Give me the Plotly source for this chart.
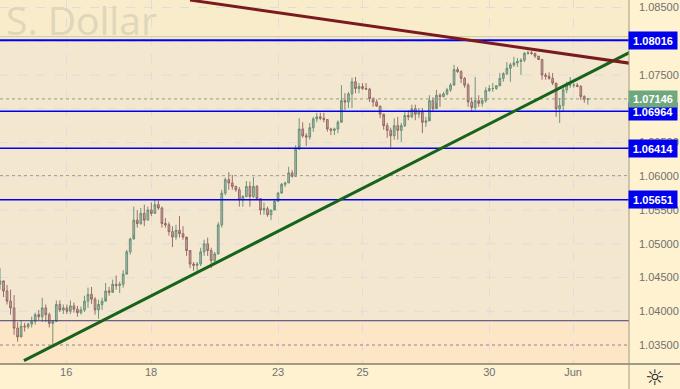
import plotly.graph_objects as go

highs = [1.0464,1.0444,1.0439,1.0432,1.0424,1.0384,1.0387,1.0383,1.0383,1.0392,
1.0398,1.0402,1.0420,1.0410,1.0398,1.0387,1.0416,1.0416,1.0410,1.0410,
1.0416,1.0413,1.0408,1.0407,1.0423,1.0435,1.0436,1.0421,1.0417,1.0420,
1.0442,1.0436,1.0447,1.0453,1.0444,1.0461,1.0491,1.0509,1.0555,1.0550,
1.0553,1.0558,1.0555,1.0561,1.0565,1.0564,1.0555,1.0538,1.0532,1.0526,
1.0528,1.0541,1.0526,1.0506,1.0487,1.0473,1.0473,1.0494,1.0506,1.0509,
1.0494,1.0488,1.0532,1.0580,1.0598,1.0606,1.0602,1.0586,1.0584,1.0572,
1.0593,1.0592,1.0599,1.0587,1.0565,1.0561,1.0555,1.0550,1.0565,1.0577,
1.0590,1.0592,1.0614,1.0609,1.0646,1.0686,1.0680,1.0664,1.0679,1.0688,
1.0694,1.0694,1.0694,1.0683,1.0672,1.0672,1.0683,1.0735,1.0723,1.0725,
1.0746,1.0747,1.0738,1.0738,1.0738,1.0731,1.0717,1.0714,1.0703,1.0688,
1.0679,1.0672,1.0686,1.0688,1.0679,1.0695,1.0698,1.0706,1.0706,1.0701,
1.0701,1.0688,1.0720,1.0717,1.0728,1.0723,1.0725,1.0731,1.0738,1.0765,
1.0762,1.0757,1.0747,1.0738,1.0717,1.0747,1.0720,1.0716,1.0732,1.0735,
1.0738,1.0735,1.0753,1.0754,1.0769,1.0768,1.0777,1.0775,1.0775,1.0784,
1.0786,1.0786,1.0783,1.0777,1.0774,1.0753,1.0754,1.0753,1.0728,1.0716,
1.0735,1.0740,1.0747,1.0738,1.0738,1.0735,1.0720,1.0716]

lows = [1.0432,1.0421,1.0410,1.0395,1.0365,1.0355,1.0365,1.0370,1.0374,1.0376,
1.0380,1.0387,1.0384,1.0384,1.0376,1.0349,1.0387,1.0399,1.0396,1.0396,
1.0396,1.0398,1.0392,1.0395,1.0399,1.0405,1.0411,1.0395,1.0389,1.0402,
1.0420,1.0423,1.0432,1.0432,1.0427,1.0435,1.0458,1.0484,1.0513,1.0524,
1.0528,1.0526,1.0535,1.0541,1.0547,1.0550,1.0524,1.0524,1.0512,1.0495,
1.0506,1.0509,1.0506,1.0482,1.0464,1.0460,1.0460,1.0467,1.0482,1.0482,
1.0464,1.0473,1.0484,1.0524,1.0572,1.0580,1.0580,1.0577,1.0555,1.0555,
1.0569,1.0555,1.0568,1.0565,1.0543,1.0543,1.0540,1.0535,1.0558,1.0568,
1.0577,1.0584,1.0590,1.0598,1.0599,1.0646,1.0657,1.0645,1.0654,1.0666,
1.0680,1.0683,1.0680,1.0666,1.0661,1.0661,1.0664,1.0683,1.0698,1.0701,
1.0701,1.0723,1.0723,1.0728,1.0728,1.0710,1.0703,1.0703,1.0686,1.0669,
1.0657,1.0643,1.0654,1.0654,1.0651,1.0673,1.0683,1.0686,1.0683,1.0686,
1.0664,1.0673,1.0688,1.0695,1.0709,1.0703,1.0717,1.0720,1.0725,1.0738,
1.0753,1.0738,1.0731,1.0703,1.0695,1.0698,1.0703,1.0703,1.0709,1.0725,
1.0725,1.0728,1.0738,1.0740,1.0750,1.0740,1.0762,1.0762,1.0750,1.0769,
1.0780,1.0780,1.0775,1.0772,1.0743,1.0743,1.0743,1.0735,1.0688,1.0679,
1.0695,1.0723,1.0731,1.0731,1.0732,1.0713,1.0709,1.0706]

closes = [1.0445,1.0430,1.0415,1.0405,1.0375,1.0362,1.0378,1.0377,1.0381,1.0385,
1.0395,1.0392,1.0405,1.0395,1.0382,1.0385,1.0410,1.0402,1.0405,1.0400,
1.0408,1.0403,1.0398,1.0402,1.0415,1.0425,1.0418,1.0402,1.0410,1.0415,
1.0430,1.0428,1.0440,1.0438,1.0440,1.0455,1.0488,1.0507,1.0535,1.0530,
1.0545,1.0535,1.0550,1.0545,1.0558,1.0553,1.0530,1.0528,1.0518,1.0510,
1.0520,1.0515,1.0510,1.0490,1.0470,1.0468,1.0470,1.0488,1.0500,1.0490,
1.0475,1.0485,1.0528,1.0575,1.0595,1.0590,1.0585,1.0580,1.0565,1.0570,
1.0585,1.0570,1.0585,1.0567,1.0550,1.0552,1.0543,1.0550,1.0563,1.0575,
1.0588,1.0590,1.0605,1.0600,1.0640,1.0670,1.0660,1.0658,1.0672,1.0685,
1.0688,1.0686,1.0684,1.0670,1.0668,1.0670,1.0680,1.0712,1.0710,1.0722,
1.0740,1.0730,1.0733,1.0730,1.0729,1.0715,1.0710,1.0704,1.0692,1.0675,
1.0668,1.0660,1.0675,1.0668,1.0675,1.0690,1.0688,1.0700,1.0692,1.0695,
1.0680,1.0682,1.0712,1.0700,1.0720,1.0718,1.0722,1.0728,1.0735,1.0758,
1.0755,1.0745,1.0735,1.0710,1.0702,1.0712,1.0708,1.0712,1.0727,1.0730,
1.0730,1.0734,1.0745,1.0752,1.0760,1.0765,1.0768,1.0770,1.0772,1.0782,
1.0783,1.0782,1.0778,1.0773,1.0750,1.0748,1.0745,1.0738,1.0700,1.0705,
1.0728,1.0735,1.0735,1.0735,1.0733,1.0718,1.0714,1.07146]

opens = [1.0440] + closes[:-1]
bars = list(range(len(closes)))

x_min, x_max = 0, 178.7
y_min, y_max = 1.03219, 1.08611

x_tick_bars = [18.8, 42.9, 79, 103, 139, 162.8]
x_tick_labels = ["16", "18", "23", "25", "30", "Jun"]
y_ticks = [1.085, 1.075, 1.065, 1.06, 1.055, 1.05, 1.045, 1.04, 1.035]
grid_y = [1.085, 1.08, 1.075, 1.07, 1.065, 1.06, 1.055, 1.05, 1.045, 1.04]

blue_levels = [1.08016, 1.06964, 1.06414, 1.05651]
blue_widths = [2, 1.6, 1.6, 1.6]
last_price = 1.07146
band_top = 1.0807
band_bottom = 1.0386
green_x, green_y = [6.8, 179.5], [1.0327, 1.0785]
red_x, red_y = [54, 179.5], [1.0861, 1.0767]

fig = go.Figure()

for level, colour in [(last_price, "#8f9f80"), (1.0601, "#a39d8c"), (1.035, "#8f8296")]:
    fig.add_trace(go.Scatter(x=[x_min, x_max], y=[level, level], mode="lines",
                             line=dict(color=colour, width=1, dash="dot"), hoverinfo="skip"))

fig.add_trace(go.Candlestick(
    x=bars, open=opens, high=highs, low=lows, close=closes, whiskerwidth=0,
    increasing=dict(line=dict(color="#5f8d72", width=0.9), fillcolor="#b2b4ac"),
    decreasing=dict(line=dict(color="#96605c", width=0.9), fillcolor="#b2b0ac"),
))

for level, w in zip(blue_levels, blue_widths):
    fig.add_trace(go.Scatter(x=[x_min, x_max], y=[level, level], mode="lines",
                             line=dict(color="#0000ee", width=w), hoverinfo="skip"))
fig.add_trace(go.Scatter(x=[x_min, x_max], y=[band_bottom, band_bottom], mode="lines",
                         line=dict(color="#3d3d7c", width=1), hoverinfo="skip"))
fig.add_trace(go.Scatter(x=[x_min, x_max], y=[band_top, band_top], mode="lines",
                         line=dict(color="#d3cda0", width=1), hoverinfo="skip"))
fig.add_trace(go.Scatter(x=green_x, y=green_y, mode="lines",
                         line=dict(color="#17631c", width=3), hoverinfo="skip"))
fig.add_trace(go.Scatter(x=red_x, y=red_y, mode="lines",
                         line=dict(color="#7a1a1e", width=3), hoverinfo="skip"))

shapes = [
    dict(type="rect", xref="paper", x0=0, x1=1, yref="y", y0=band_top, y1=y_max,
         fillcolor="#f9ecca", line_width=0, layer="below"),
    dict(type="rect", xref="paper", x0=0, x1=1, yref="y", y0=y_min, y1=band_bottom,
         fillcolor="#fde6c6", line_width=0, layer="below"),
    dict(type="line", xref="paper", x0=0, x1=1 + 51 / 629, yref="paper", y0=0, y1=0,
         line=dict(color="#a09c84", width=2), layer="above"),
    dict(type="line", xref="paper", x0=1, x1=1, yref="paper", y0=-25 / 364, y1=1,
         line=dict(color="#a09c84", width=1), layer="above"),
]
for g in grid_y:
    shapes.append(dict(type="line", xref="paper", x0=0, x1=1, yref="y", y0=g, y1=g,
                       line=dict(color="#dedcdf", width=1, dash="dash"), layer="below"))

anns = [dict(text="S. Dollar", xref="paper", x=158 / 629, xanchor="right", yref="paper",
             y=1, yanchor="top", yshift=8, showarrow=False, borderpad=0,
             font=dict(family="Open Sans", size=39, color="#e0d6bc"))]
label_x = 1 + 24 / 629
for level in blue_levels:
    anns.append(dict(text=f"<b>{level:.5f}</b>", xref="paper", x=label_x, xanchor="center",
                     yref="y", y=level, yanchor="middle", showarrow=False, width=46, height=15,
                     bgcolor="#0000ee", font=dict(family="Liberation Sans", size=11, color="white")))
anns.append(dict(text=f"<b>{last_price:.5f}</b>", xref="paper", x=label_x, xanchor="center",
                 yref="y", y=last_price, yanchor="middle", showarrow=False, width=46, height=14,
                 bgcolor="#6fa77f", font=dict(family="Liberation Sans", size=11, color="white")))
anns.append(dict(text="☼", xref="paper", x=1 + 26 / 629, xanchor="center", yref="paper", y=-13 / 364,
                 yanchor="middle", showarrow=False,
                 font=dict(family="DejaVu Sans", size=22, color="#222222")))

fig.update_layout(
    width=680, height=389, margin=dict(l=0, r=51, t=0, b=25),
    paper_bgcolor="#fef2d0", plot_bgcolor="#f3e7cf", showlegend=False,
    shapes=shapes, annotations=anns,
    font=dict(family="Liberation Sans", size=11, color="#707070"),
    xaxis=dict(range=[x_min, x_max], tickvals=x_tick_bars, ticktext=x_tick_labels,
               rangeslider=dict(visible=False), showgrid=True, gridcolor="#dedcdf",
               griddash="dash", gridwidth=1, zeroline=False, showline=False,
               ticks="", tickfont=dict(size=11, color="#707070")),
    yaxis=dict(range=[y_min, y_max], side="right", tickvals=y_ticks, tickformat=".5f",
               showgrid=False, zeroline=False, showline=False,
               ticks="", ticklabelstandoff=9, tickfont=dict(size=11, color="#707070")),
)

fig.write_html("out.html", config=dict(displayModeBar=False),
               post_script="document.body.style.margin='0';")
